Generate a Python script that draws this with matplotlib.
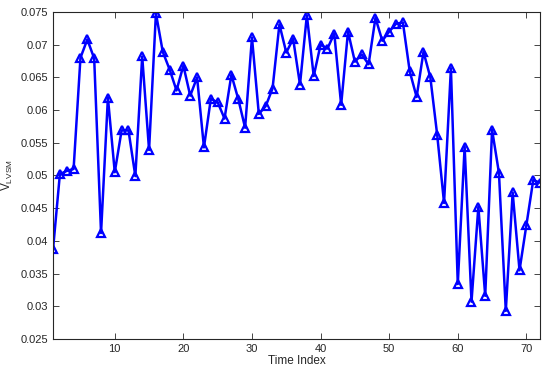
#!/usr/bin/env python3
"""LVSM value over time index, MATLAB-style line plot."""

import matplotlib

matplotlib.use("Agg")
import matplotlib.pyplot as plt
import numpy as np
from matplotlib.ticker import FuncFormatter

time_index = np.arange(1, 73)
v_lvsm = [
    0.0387, 0.0502, 0.0507, 0.0510, 0.0680, 0.0708, 0.0679, 0.0412, 0.0619, 0.0505,
    0.0569, 0.0569, 0.0499, 0.0682, 0.0539, 0.0748, 0.0689, 0.0662, 0.0630, 0.0668,
    0.0622, 0.0650, 0.0543, 0.0617, 0.0612, 0.0587, 0.0654, 0.0617, 0.0573, 0.0711,
    0.0594, 0.0606, 0.0633, 0.0731, 0.0688, 0.0709, 0.0639, 0.0745, 0.0652, 0.0700,
    0.0694, 0.0717, 0.0608, 0.0720, 0.0674, 0.0685, 0.0670, 0.0741, 0.0706, 0.0720,
    0.0732, 0.0734, 0.0659, 0.0620, 0.0689, 0.0650, 0.0562, 0.0458, 0.0664, 0.0334,
    0.0544, 0.0307, 0.0452, 0.0316, 0.0570, 0.0504, 0.0293, 0.0474, 0.0355, 0.0424,
    0.0493, 0.0489,
]
x_ticks = [10, 20, 30, 40, 50, 60, 70]
y_ticks = np.arange(0.025, 0.0751, 0.005)

plt.rcParams.update(
    {
        "font.family": ["Liberation Sans", "DejaVu Sans"],
        "font.size": 8,
        "mathtext.fontset": "custom",
        "mathtext.rm": "Liberation Sans",
        "mathtext.it": "Liberation Sans",
    }
)

fig = plt.figure(figsize=(5.5, 3.71), dpi=100)
ax = fig.add_axes([0.0964, 0.0863, 0.8856, 0.8814])

ax.plot(
    time_index, v_lvsm,
    color="#0000FF", linewidth=1.8,
    marker="^", markersize=6, markerfacecolor="none",
    markeredgecolor="#0000FF", markeredgewidth=1.6,
)

ax.set_xlim(1, 72)
ax.set_ylim(0.025, 0.075)
ax.set_xticks(x_ticks)
ax.set_yticks(y_ticks)
ax.yaxis.set_major_formatter(FuncFormatter(lambda v, _: f"{v:.3f}".rstrip("0")))

edge = "#262626"
for spine in ax.spines.values():
    spine.set_color(edge)
    spine.set_linewidth(0.8)
ax.tick_params(direction="in", top=True, right=True, length=4, width=0.6,
               colors=edge, labelsize=8)

ax.set_xlabel("Time Index", fontsize=8.5, color=edge, labelpad=1)
ax.set_ylabel("V$_{\\mathrm{LVSM}}$", fontsize=8.5, color=edge, labelpad=4)

fig.savefig("out.png", dpi=100)
